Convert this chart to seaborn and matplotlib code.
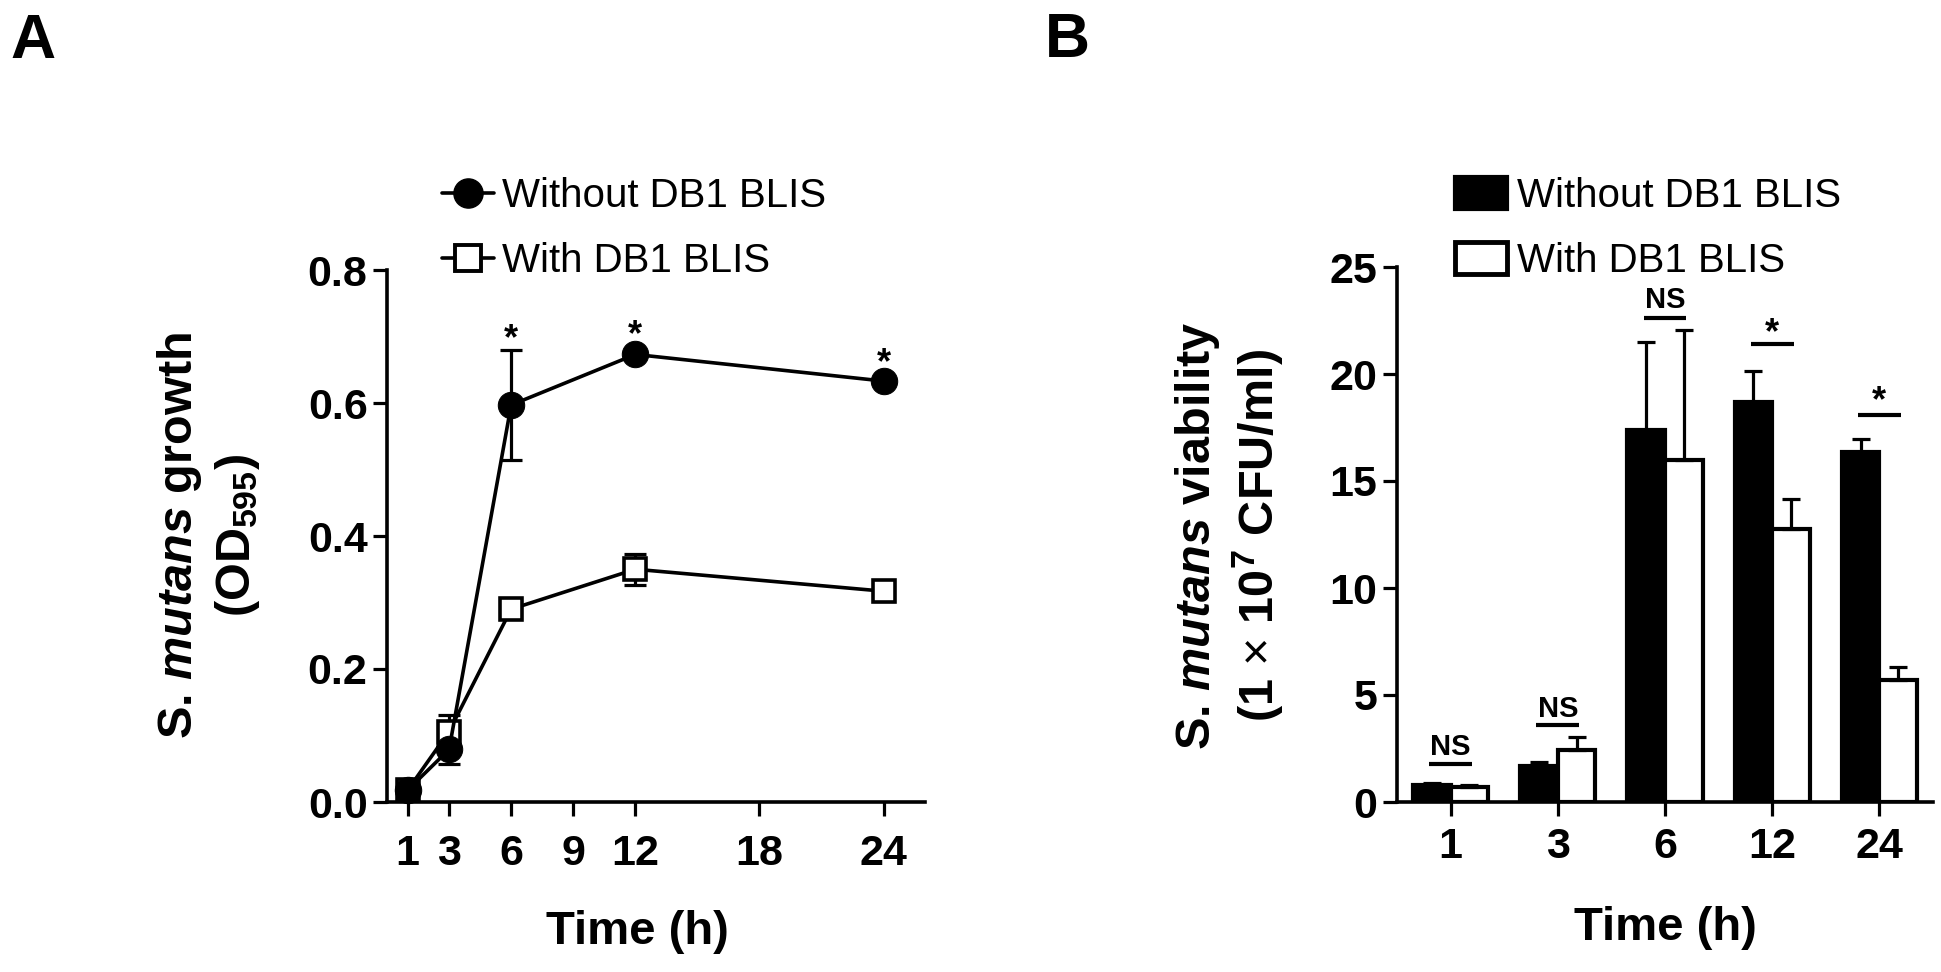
import numpy as np
import pandas as pd
import matplotlib
matplotlib.use("Agg")
import matplotlib.pyplot as plt
import seaborn as sns
from matplotlib.lines import Line2D
from matplotlib.patches import Patch

# ---------------- data ----------------
series = ["Without DB1 BLIS", "With DB1 BLIS"]

# Panel A: growth (OD595)
time_a = [1, 3, 6, 12, 24]
growth_without = [0.018, 0.079, 0.597, 0.673, 0.633]
growth_without_err = [0.004, 0.022, 0.083, 0.006, 0.006]
growth_with = [0.018, 0.106, 0.290, 0.350, 0.317]
growth_with_err = [0.004, 0.025, 0.008, 0.023, 0.014]
a_xticks = [1, 3, 6, 9, 12, 18, 24]
a_yticks = [0.0, 0.2, 0.4, 0.6, 0.8]
a_star_times = [6, 12, 24]
a_star_y = [0.709, 0.715, 0.673]

# Panel B: viability (x 10^7 CFU/ml)
time_b = ["1", "3", "6", "12", "24"]
viab_without = [0.78, 1.70, 17.4, 18.7, 16.35]
viab_without_err = [0.12, 0.18, 4.1, 1.45, 0.6]
viab_with = [0.72, 2.42, 16.0, 12.75, 5.7]
viab_with_err = [0.06, 0.6, 6.05, 1.43, 0.6]
b_yticks = [0, 5, 10, 15, 20, 25]
b_sig_labels = ["NS", "NS", "NS", "*", "*"]
b_sig_line_y = [1.79, 3.58, 22.6, 21.4, 18.1]
b_sig_text_y = [2.68, 4.47, 23.6, 22.4, 19.2]

# ---------------- style ----------------
sns.set_style("ticks")
plt.rcParams["font.family"] = ["Liberation Sans", "DejaVu Sans"]
plt.rcParams["text.color"] = "black"
plt.rcParams["axes.labelcolor"] = "black"
plt.rcParams["xtick.color"] = "black"
plt.rcParams["ytick.color"] = "black"
plt.rcParams["axes.edgecolor"] = "black"
plt.rcParams["mathtext.fontset"] = "custom"
plt.rcParams["mathtext.rm"] = "Liberation Sans:bold"
plt.rcParams["mathtext.bf"] = "Liberation Sans:bold"
plt.rcParams["mathtext.it"] = "Liberation Sans:italic:bold"
plt.rcParams["mathtext.sf"] = "Liberation Sans"

W, H = 1941, 972
fig = plt.figure(figsize=(W / 100, H / 100), dpi=100)
fig.patch.set_facecolor("white")

axA = fig.add_axes([387 / W, 1 - 802 / H, (925 - 387) / W, (802 - 270) / H])
axB = fig.add_axes([1397 / W, 1 - 802 / H, (1933 - 1397) / W, (802 - 267) / H])

TICK_FS = 31
LABEL_FS = 34
YLABEL_FS = 35
SPINE_LW = 2.6

def style_axes(ax, xpad):
    for s in ["top", "right"]:
        ax.spines[s].set_visible(False)
    for s in ["left", "bottom"]:
        ax.spines[s].set_linewidth(SPINE_LW)
        ax.spines[s].set_color("black")
    ax.tick_params(axis="both", direction="out", length=10, width=2.3,
                   colors="black", labelsize=TICK_FS)
    ax.tick_params(axis="x", pad=xpad)
    ax.tick_params(axis="y", pad=4)
    ax.set_facecolor("white")
    ax.grid(False)

# ---------------- Panel A ----------------
axA.errorbar(time_a, growth_without, yerr=growth_without_err, fmt="none",
             ecolor="black", elinewidth=2.3, capsize=8, capthick=2.3, zorder=1.5,
             clip_on=False)
axA.errorbar(time_a, growth_with, yerr=growth_with_err, fmt="none",
             ecolor="black", elinewidth=2.3, capsize=8, capthick=2.3, zorder=1.5,
             clip_on=False)
sns.lineplot(x=time_a, y=growth_with, ax=axA, color="black", linewidth=2.6,
             marker="s", markersize=16, markerfacecolor="white",
             markeredgecolor="black", markeredgewidth=2.6, clip_on=False, zorder=3)
sns.lineplot(x=time_a, y=growth_without, ax=axA, color="black", linewidth=2.6,
             marker="o", markersize=19, markerfacecolor="black",
             markeredgecolor="black", clip_on=False, zorder=4)

for t, y in zip(a_star_times, a_star_y):
    axA.text(t, y - 0.028, "*", ha="center", va="baseline", fontsize=26,
             fontweight="bold", color="black")

axA.set_xlim(0, 26)
axA.set_ylim(0, 0.8)
axA.set_xticks(a_xticks)
axA.set_xticklabels([str(v) for v in a_xticks])
axA.set_yticks(a_yticks)
axA.set_yticklabels([f"{v:.1f}" for v in a_yticks])
style_axes(axA, xpad=13)
axA.set_xlabel("Time (h)", fontsize=LABEL_FS, fontweight="bold")
axA.xaxis.label.set_va("center")
axA.xaxis.set_label_coords(0.465, -0.244)
axA.set_ylabel("")

handlesA = [
    Line2D([], [], color="black", lw=2.6, marker="o", markersize=21),
    Line2D([], [], color="black", lw=2.6, marker="s", markersize=19,
           markerfacecolor="white", markeredgecolor="black", markeredgewidth=2.8),
]
axA.legend(handlesA, series, loc="upper left", bbox_to_anchor=(442 / W, 1 - 177 / H),
           bbox_transform=fig.transFigure, frameon=False, fontsize=29,
           handlelength=1.28, handletextpad=0.22, labelspacing=0.67,
           borderpad=0, borderaxespad=0)

# ---------------- Panel B ----------------
dfB = pd.DataFrame({
    "Time": time_b * 2,
    "Viability": viab_without + viab_with,
    "Group": [series[0]] * len(time_b) + [series[1]] * len(time_b),
})
sns.barplot(data=dfB, x="Time", y="Viability", hue="Group", order=time_b,
            hue_order=series, palette=["black", "white"], edgecolor="black",
            linewidth=3, width=0.7, errorbar=None, saturation=1, ax=axB,
            legend=False)

for cont, err in zip(axB.containers, [viab_without_err, viab_with_err]):
    xs = [p.get_x() + p.get_width() / 2 for p in cont]
    ys = [p.get_height() for p in cont]
    axB.errorbar(xs, ys, yerr=[np.zeros(len(err)), err], fmt="none",
                 ecolor="black", elinewidth=2.3, capsize=6.5, capthick=2.3,
                 zorder=3)

for i, (lab, ly, ty) in enumerate(zip(b_sig_labels, b_sig_line_y, b_sig_text_y)):
    axB.plot([i - 0.2, i + 0.2], [ly, ly], color="black", lw=3,
             solid_capstyle="butt", zorder=3)
    if lab == "*":
        axB.text(i, ty - 0.95, lab, ha="center", va="baseline", fontsize=26,
                 fontweight="bold", color="black")
    else:
        axB.text(i, ty - 0.5, lab, ha="center", va="baseline", fontsize=21,
                 fontweight="bold", color="black")

axB.set_xlim(-0.5, 4.5)
axB.set_ylim(0, 25)
axB.set_yticks(b_yticks)
axB.set_yticklabels([str(v) for v in b_yticks])
style_axes(axB, xpad=8)
axB.set_xlabel("Time (h)", fontsize=LABEL_FS, fontweight="bold")
axB.xaxis.label.set_va("center")
axB.xaxis.set_label_coords(0.5, -0.2355)
axB.set_ylabel("")

handlesB = [
    Patch(facecolor="black", edgecolor="black", linewidth=3),
    Patch(facecolor="white", edgecolor="black", linewidth=3.5),
]
axB.legend(handlesB, series, loc="upper left", bbox_to_anchor=(1455 / W, 1 - 177 / H),
           bbox_transform=fig.transFigure, frameon=False, fontsize=29,
           handlelength=1.3, handleheight=0.85, handletextpad=0.25,
           labelspacing=0.67, borderpad=0, borderaxespad=0)

# bold tick labels
for ax in (axA, axB):
    for lab in ax.get_xticklabels() + ax.get_yticklabels():
        lab.set_fontweight("bold")
        lab.set_color("black")

# ---------------- y-axis titles ----------------
ycen = 1 - 536 / H
fig.text(180 / W, ycen, "S. $mutans$ growth", rotation=90, ha="center",
         va="center", fontsize=YLABEL_FS, fontweight="bold")
fig.text(237 / W, ycen, "(OD$_{595}$)", rotation=90, ha="center",
         va="center", fontsize=YLABEL_FS, fontweight="bold")
fig.text(1198 / W, ycen, "S. $mutans$ viability", rotation=90, ha="center",
         va="center", fontsize=YLABEL_FS, fontweight="bold")
fig.text(1258 / W, ycen, "(1 $\\mathsf{×}$ 10$^{7}$ CFU/ml)", rotation=90,
         ha="center", va="center", fontsize=YLABEL_FS, fontweight="bold")

# panel letters
fig.text(10 / W, 1 - 58 / H, "A", fontsize=45, fontweight="bold", va="baseline")
fig.text(1045 / W, 1 - 57 / H, "B", fontsize=45, fontweight="bold", va="baseline")

fig.savefig("out.png", dpi=100, facecolor="white")
